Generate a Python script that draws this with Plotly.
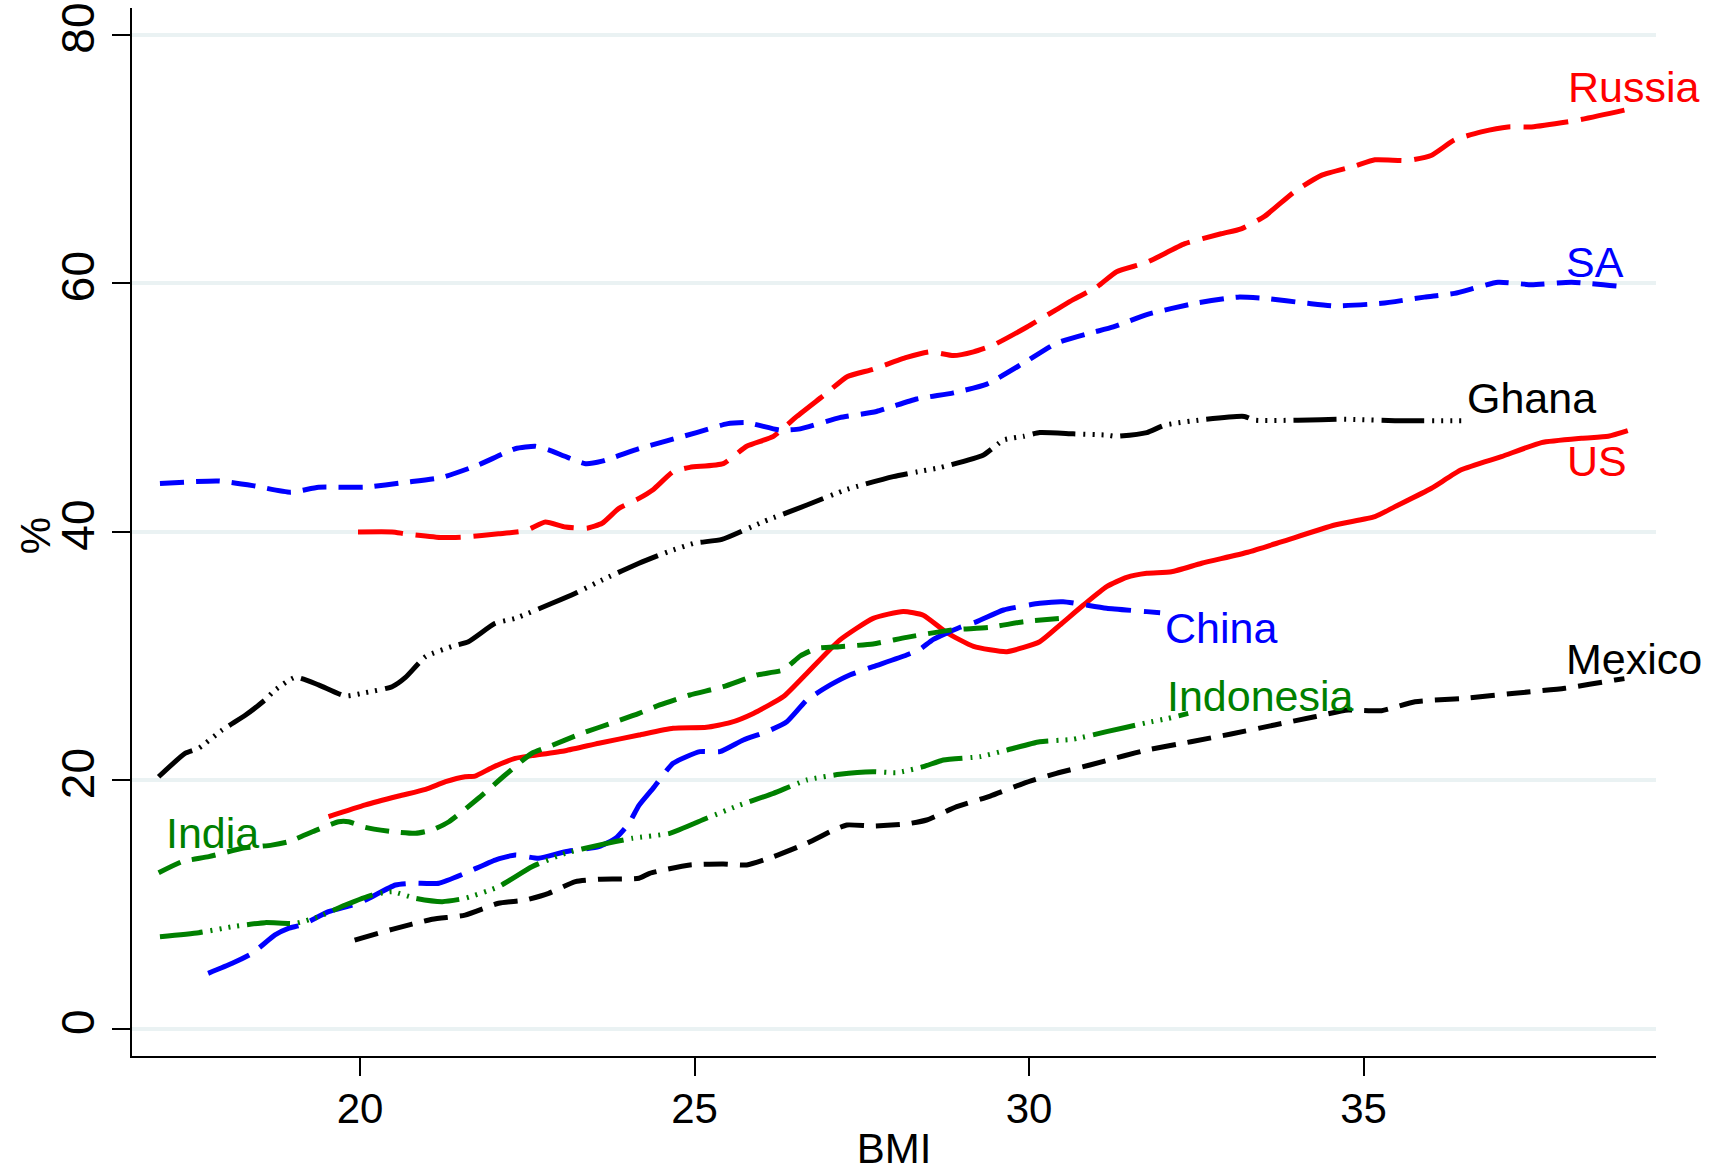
import plotly.graph_objects as go

# ---- data: share (%) by BMI, smoothed curves per country ----
russia_x = [19.97, 20.48, 20.68, 21.23, 21.57, 22.07, 22.47, 22.77, 23.07, 23.39, 23.62, 23.87, 24.17, 24.38, 24.68,
            24.93, 25.43, 25.78, 26.18, 26.53, 26.98, 27.28, 27.67, 28.17, 28.52, 28.87, 29.17, 29.47, 29.97, 30.41,
            30.66, 31.01, 31.31, 31.76, 32.33, 32.87, 33.17, 33.52, 33.97, 34.37, 34.87, 35.17, 35.67, 36.01, 36.36,
            36.76, 37.16, 37.51, 38.16, 38.9]
russia_y = [40.0, 40.0, 39.85, 39.55, 39.6, 39.85, 40.1, 40.8, 40.4, 40.3, 40.7, 41.9, 42.7, 43.4, 44.85,
            45.2, 45.5, 46.9, 47.7, 49.3, 51.2, 52.5, 53.1, 54.05, 54.5, 54.2, 54.5, 55.05, 56.5, 57.9,
            58.7, 59.7, 60.95, 61.7, 63.2, 64.0, 64.4, 65.4, 67.4, 68.7, 69.45, 69.95, 69.9, 70.3, 71.55,
            72.2, 72.6, 72.6, 73.1, 73.95]

sa_x = [17.01, 17.89, 18.43, 18.96, 19.38, 20.08, 20.68, 21.23, 21.77, 22.32, 22.62, 22.82, 23.37, 23.62, 24.17,
        25.03, 25.48, 25.78, 26.28, 26.58, 27.17, 27.72, 28.32, 28.87, 29.37, 29.92, 30.41, 30.91, 31.26, 31.76,
        32.48, 33.12, 33.52, 34.17, 34.57, 35.27, 35.91, 36.36, 37.01, 37.51, 38.11, 38.95]
sa_y = [43.9, 44.1, 43.7, 43.2, 43.6, 43.6, 44.0, 44.4, 45.4, 46.7, 46.9, 46.6, 45.5, 45.7, 46.7,
        48.0, 48.7, 48.8, 48.2, 48.3, 49.2, 49.7, 50.7, 51.2, 51.9, 53.6, 55.2, 56.0, 56.5, 57.5,
        58.4, 58.9, 58.8, 58.4, 58.2, 58.4, 58.9, 59.2, 60.1, 59.9, 60.1, 59.7]

ghana_x = [16.99, 17.39, 17.59, 17.94, 18.29, 18.58, 18.73, 19.03, 19.38, 19.78, 20.08, 20.48, 20.68, 20.98, 21.38,
           21.62, 22.02, 22.32, 22.87, 23.22, 23.67, 24.17, 24.6, 25.0, 25.41, 26.03, 26.68, 27.28, 27.97, 28.42,
           28.67, 29.32, 29.62, 29.92, 30.16, 30.66, 31.16, 31.3, 31.76, 32.03, 32.65, 33.22, 33.37, 34.02, 34.7,
           35.47, 36.51]
ghana_y = [20.3, 22.2, 22.6, 24.06, 25.27, 26.48, 27.28, 28.3, 27.7, 26.8, 27.07, 27.55, 28.3, 29.97, 30.8,
           31.17, 32.65, 33.05, 34.26, 35.07, 36.27, 37.48, 38.4, 39.1, 39.4, 40.83, 42.17, 43.43, 44.45, 44.93,
           45.18, 46.2, 47.4, 47.7, 48.0, 47.9, 47.8, 47.7, 48.0, 48.6, 49.07, 49.3, 49.0, 49.0, 49.07,
           48.96, 48.96]

us_x = [19.53, 20.08, 20.58, 20.98, 21.28, 21.57, 21.72, 21.97, 22.32, 22.57, 23.07, 23.57, 24.17, 24.68, 25.18,
        25.53, 25.88, 26.33, 26.68, 27.17, 27.67, 28.12, 28.42, 28.77, 29.17, 29.67, 30.16, 30.46, 30.81, 31.16,
        31.46, 31.76, 32.13, 32.58, 33.27, 33.77, 34.57, 35.17, 35.47, 36.01, 36.46, 37.06, 37.66, 38.26, 38.66,
        38.95]
us_y = [17.09, 18.03, 18.75, 19.29, 19.9, 20.3, 20.35, 21.03, 21.78, 22.0, 22.4, 23.0, 23.66, 24.2, 24.28,
        24.65, 25.4, 26.75, 28.63, 31.3, 33.05, 33.6, 33.3, 31.9, 30.8, 30.37, 31.17, 32.5, 34.1, 35.6,
        36.35, 36.68, 36.8, 37.48, 38.37, 39.2, 40.56, 41.23, 42.04, 43.5, 45.0, 46.06, 47.19, 47.54, 47.7,
        48.15]

china_x = [17.73, 18.09, 18.39, 18.73, 18.93, 19.13, 19.53, 19.98, 20.53, 20.78, 21.18, 21.57, 22.02, 22.32, 22.67,
           23.07, 23.57, 23.82, 24.02, 24.17, 24.38, 24.68, 25.08, 25.38, 25.73, 26.08, 26.38, 26.68, 27.03, 27.32,
           27.67, 28.17, 28.37, 28.57, 28.97, 29.22, 29.62, 30.16, 30.51, 30.76, 31.16, 31.76, 31.96]
china_y = [4.48, 5.29, 6.1, 7.57, 8.1, 8.37, 9.44, 10.12, 11.59, 11.73, 11.73, 12.53, 13.6, 14.0, 13.74,
           14.27, 14.67, 15.35, 16.55, 18.0, 19.37, 21.38, 22.32, 22.32, 23.26, 23.93, 24.73, 26.48, 27.69, 28.49,
           29.16, 30.1, 30.56, 31.36, 32.33, 32.78, 33.72, 34.26, 34.39, 34.2, 33.86, 33.59, 33.5]

india_x = [16.99, 17.34, 17.74, 18.24, 18.68, 18.93, 19.33, 19.68, 19.83, 20.08, 20.48, 20.83, 21.08, 21.33, 21.77,
           22.17, 22.57, 22.82, 23.32, 23.82, 24.17, 24.48, 24.93, 25.43, 25.93, 26.33, 26.58, 26.83, 27.17, 27.67,
           28.17, 28.82, 29.42, 29.92, 30.49]
india_y = [12.58, 13.47, 13.87, 14.54, 14.8, 15.07, 15.96, 16.68, 16.68, 16.23, 15.88, 15.75, 16.02, 16.68, 18.57,
           20.44, 22.19, 22.72, 23.8, 24.73, 25.4, 26.08, 26.88, 27.55, 28.49, 28.9, 30.02, 30.64, 30.77, 30.99,
           31.52, 32.1, 32.33, 32.78, 33.05]

indonesia_x = [17.01, 17.59, 18.09, 18.58, 19.03, 19.38, 19.78, 20.18, 20.48, 20.83, 21.23, 21.57, 22.07, 22.57, 23.07,
               23.57, 24.07, 24.63, 25.18, 25.68, 26.18, 26.68, 27.17, 27.67, 28.02, 28.42, 28.72, 29.27, 29.67, 30.16,
               30.66, 31.16, 31.76, 32.08, 32.38]
indonesia_y = [7.43, 7.75, 8.23, 8.56, 8.5, 9.04, 9.98, 10.78, 11.05, 10.52, 10.25, 10.52, 11.45, 13.06, 14.14,
               14.8, 15.35, 15.75, 16.96, 18.03, 18.97, 20.04, 20.5, 20.71, 20.63, 21.11, 21.65, 21.92, 22.45, 23.12,
               23.32, 23.93, 24.65, 25.0, 25.4]

mexico_x = [19.92, 20.48, 21.08, 21.57, 22.07, 22.47, 22.82, 23.22, 23.57, 24.17, 24.33, 24.93, 25.43, 25.78, 26.18,
            26.68, 27.08, 27.28, 27.67, 28.17, 28.47, 28.92, 29.42, 29.92, 30.41, 30.91, 31.41, 31.76, 32.42, 33.02,
            33.67, 34.27, 34.77, 35.27, 35.77, 36.51, 37.26, 38.01, 38.76, 38.9]
mexico_y = [7.16, 8.02, 8.83, 9.17, 10.12, 10.38, 10.92, 11.86, 12.05, 12.13, 12.53, 13.2, 13.28, 13.2, 13.87,
            14.95, 16.02, 16.42, 16.34, 16.5, 16.82, 17.89, 18.75, 19.77, 20.58, 21.25, 21.97, 22.45, 23.12, 23.74,
            24.47, 25.13, 25.67, 25.62, 26.34, 26.61, 27.02, 27.42, 28.09, 28.2]

# country labels: name, x, y
label_names = ["Russia", "SA", "Ghana", "US", "China", "Indonesia", "Mexico", "India"]
label_x = [38.03, 37.99, 36.51, 38.01, 32.0, 32.03, 37.99, 17.07]
label_y = [75.8, 61.76, 50.82, 45.75, 32.31, 26.82, 29.8, 15.81]

x_ticks = [20, 25, 30, 35]
y_ticks = [0, 20, 40, 60, 80]

# ---- styles ----
RED, BLUE, BLACK, GREEN = "#ff0000", "#0000ff", "#000000", "#008000"
LONG = "45px,13px"
DASH = "24px,12px"
LONG_DOTS = "43px,8px,2px,7px,2px,7px,2px,7px,2px,8px"
FONT = "Liberation Sans, Arial, Helvetica, sans-serif"

series = [
    (russia_x, russia_y, RED, LONG),
    (sa_x, sa_y, BLUE, DASH),
    (ghana_x, ghana_y, BLACK, LONG_DOTS),
    (us_x, us_y, RED, "solid"),
    (china_x, china_y, BLUE, LONG),
    (india_x, india_y, GREEN, DASH),
    (indonesia_x, indonesia_y, GREEN, LONG_DOTS),
    (mexico_x, mexico_y, BLACK, DASH),
]
label_colors = [RED, BLUE, BLACK, RED, BLUE, GREEN, BLACK, GREEN]

fig = go.Figure()
for xs, ys, color, dash in series:
    fig.add_trace(go.Scatter(
        x=xs, y=ys, mode="lines",
        line=dict(color=color, width=5, dash=dash, shape="spline", smoothing=0.5),
        showlegend=False, hoverinfo="skip",
    ))

for name, lx, ly, color in zip(label_names, label_x, label_y, label_colors):
    fig.add_annotation(
        x=lx, y=ly, xref="x", yref="y", text=name, showarrow=False,
        xanchor="left", yanchor="middle",
        font=dict(family=FONT, size=43, color=color),
    )

# y-axis title, placed explicitly left of the tick labels
fig.add_annotation(
    x=-0.0636, y=0.496, xref="paper", yref="paper", text="%", textangle=-90,
    showarrow=False, xanchor="center", yanchor="middle",
    font=dict(family=FONT, size=42, color="black"),
)

fig.update_layout(
    width=1714, height=1172,
    margin=dict(l=132, r=58, t=8, b=116, autoexpand=False),
    paper_bgcolor="white", plot_bgcolor="white",
    font=dict(family=FONT, color="black"),
)
fig.update_xaxes(
    range=[16.592, 39.372], tickvals=x_ticks, automargin=False,
    showgrid=False, zeroline=False,
    showline=True, linecolor="black", linewidth=2,
    ticks="outside", ticklen=18, tickwidth=1.5, tickcolor="black",
    tickfont=dict(family=FONT, size=42, color="black"), ticklabelstandoff=-3,
    title=dict(text="BMI", font=dict(family=FONT, size=42, color="black"), standoff=8),
)
fig.update_yaxes(
    range=[-2.173, 82.17], tickvals=y_ticks, tickangle=-90, automargin=False,
    showgrid=True, gridcolor="#eaf2f3", gridwidth=4, zeroline=False,
    showline=True, linecolor="black", linewidth=2,
    ticks="outside", ticklen=18, tickwidth=1.5, tickcolor="black",
    tickfont=dict(family=FONT, size=46, color="black"),
)

fig.write_html("out.html")
